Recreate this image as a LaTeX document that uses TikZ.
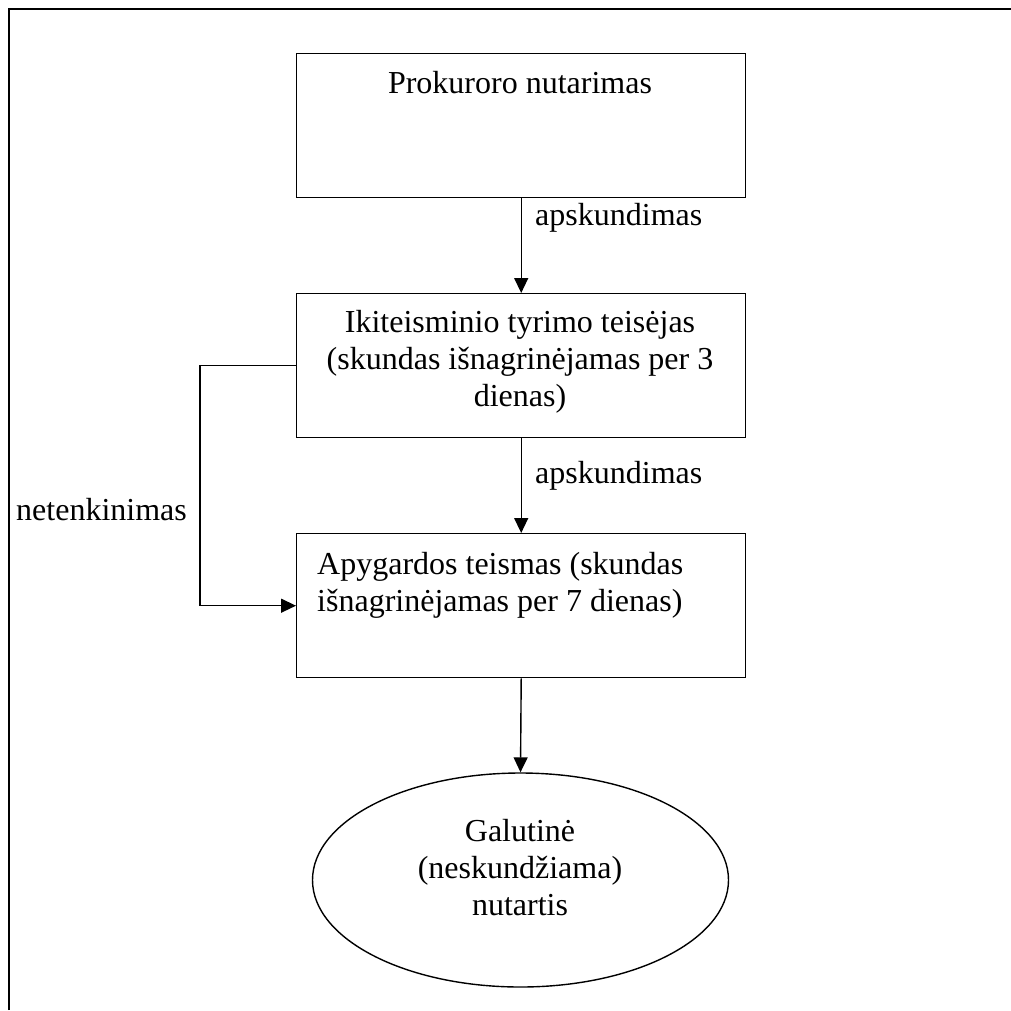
\documentclass[tikz,border=0pt]{standalone}
\usepackage{fontspec}
\setmainfont{Liberation Serif}
\usetikzlibrary{arrows.meta,shapes.geometric}
\begin{document}
\begin{tikzpicture}[x=1pt,y=-1pt,
  box/.style={draw,line width=1.4pt,minimum width=449pt,minimum height=144pt,inner sep=0pt,anchor=north west},
  lbl/.style={inner sep=0pt,font=\fontsize{32}{37}\selectfont},
  arr/.style={line width=1.4pt,-{Triangle[length=15pt,width=14pt]}},
  frameline/.style={line width=2.6pt}]
\useasboundingbox (0,0) rectangle (1011,1010);
\draw[frameline] (9,1010) -- (9,9) -- (1011,9);
\node[box] (b1) at (296,53) {};
\node[box] (b2) at (296,293) {};
\node[box] (b3) at (296,533) {};
\node[draw,ellipse,line width=1.4pt,minimum width=416pt,minimum height=214pt,inner sep=0pt] (e) at (520.5,880) {};
\node[lbl,anchor=base] (t1) at (520,93) {Prokuroro nutarimas};
\node[lbl,align=center] (t2) at (520,362) {Ikiteisminio tyrimo teisėjas\\(skundas išnagrinėjamas per 3\\dienas)};
\node[lbl,align=left,anchor=west] (t3) at (317,585.5) {Apygardos teismas (skundas\\išnagrinėjamas per 7 dienas)};
\node[lbl,align=center] (t4) at (520,868) {Galutinė\\(neskundžiama)\\nutartis};
\node[lbl,anchor=base west] (l1) at (535,225) {apskundimas};
\node[lbl,anchor=base west] (l2) at (535,483) {apskundimas};
\node[lbl,anchor=base west] (l3) at (16,520) {netenkinimas};
\draw[arr] (b1.south) -- (b2.north);
\draw[arr] (b2.south) -- (b3.north);
\draw[arr] (b3.south) -- (e.north);
\draw[arr] (b2.west) -- ++(-96,0) |- (b3.west);
\end{tikzpicture}
\end{document}
